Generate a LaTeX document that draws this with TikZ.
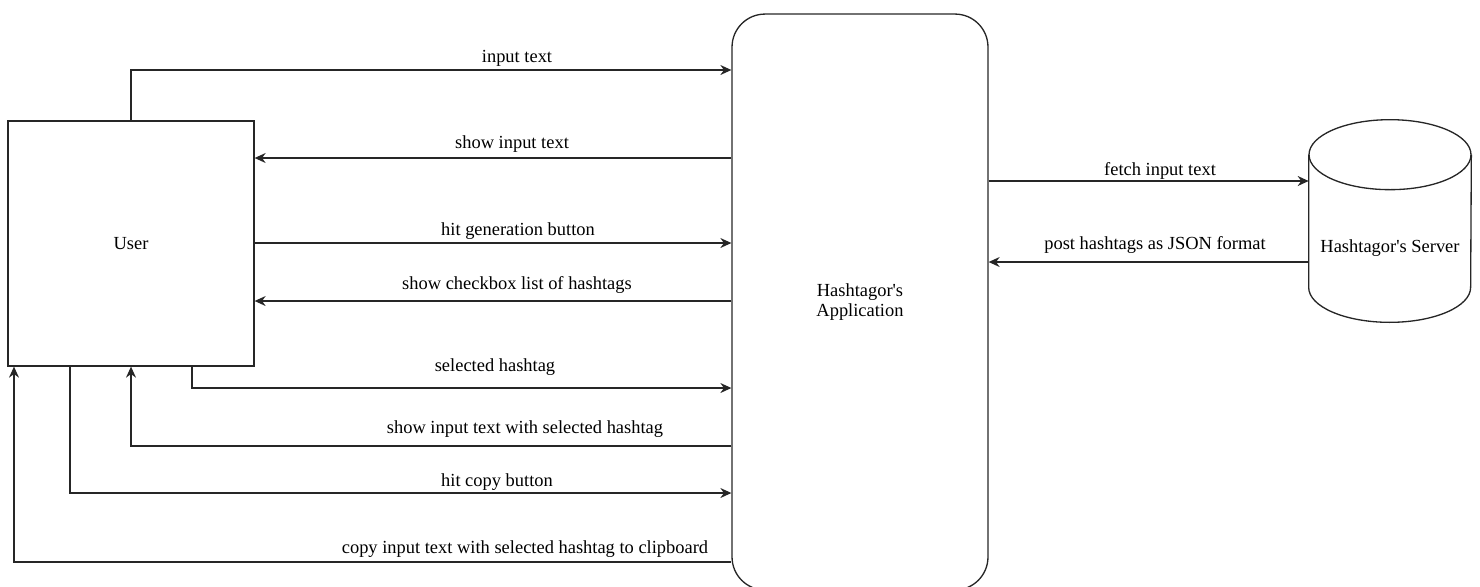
\documentclass[tikz,border=0pt]{standalone}
\usepackage{fontspec}
\setmainfont{Liberation Serif}
\usepackage{tikz}
\usetikzlibrary{arrows.meta}
\usetikzlibrary{positioning,calc}
\definecolor{inkgray}{RGB}{38,38,38}

\begin{document}
\begin{tikzpicture}[x=0.02cm,y=-0.02cm,
    font=\fontsize{10.5pt}{11pt}\selectfont,
    wire/.style={line width=0.75pt,draw=inkgray},
    flow/.style={wire,-{Stealth[length=2.2mm,width=2mm]}},
    userbox/.style={wire,rectangle,minimum width=4.92cm,minimum height=4.9cm},
    appbox/.style={wire,rectangle,rounded corners=0.66cm,align=center,
      minimum width=5.12cm,minimum height=11.52cm},
    srvbox/.style={rectangle,minimum width=3.24cm,minimum height=4.04cm},
    lbl/.style={text=black,inner sep=1pt}]
    \useasboundingbox (0,0) rectangle (1480,586);
    % the three parties
    \node[userbox] (user) at (131,243.5) {User};
    \node[appbox] (app) at (860,302) {Hashtagor\textquotesingle s\\Application};
    \node[srvbox] (srv) at (1390,221) {};
    \draw[wire] ([yshift=-0.7cm]srv.north) ellipse [x radius=1.62cm,y radius=0.7cm];
    \draw[wire] ([yshift=-0.7cm]srv.north west) -- ([yshift=0.7cm]srv.south west)
      arc[start angle=180,end angle=360,x radius=1.62cm,y radius=0.7cm]
      -- ([yshift=-0.7cm]srv.north east);
    \node (srvtext) at (1390,248) {Hashtagor\textquotesingle s Server};
    % user <-> application
    \draw[flow] (user.north) |- (app.west |- 0,70);
    \node[lbl] (l1) at (517,58) {input text};
    \draw[flow] (app.west |- 0,158) -- (user.east |- 0,158);
    \node[lbl] (l2) at (512,144) {show input text};
    \draw[flow] (user.east |- 0,243) -- (app.west |- 0,243);
    \node[lbl] (l3) at (518,231) {hit generation button};
    \draw[flow] (app.west |- 0,301) -- (user.east |- 0,301);
    \node[lbl] (l4) at (517,285) {show checkbox list of hashtags};
    \draw[flow] (user.south -| 192,0) |- (app.west |- 0,388);
    \node[lbl] (l5) at (495,367) {selected hashtag};
    \draw[flow] (app.west |- 0,446) -| (user.south);
    \node[lbl] (l6) at (525,429) {show input text with selected hashtag};
    \draw[flow] (user.south -| 70,0) |- (app.west |- 0,493);
    \node[lbl] (l7) at (497,482) {hit copy button};
    \draw[flow] (app.west |- 0,562) -| (user.south -| 14,0);
    \node[lbl] (l8) at (525,549) {copy input text with selected hashtag to clipboard};
    % application <-> server
    \draw[flow] (app.east |- 0,181) -- (srv.west |- 0,181);
    \node[lbl] (l9) at (1160,171) {fetch input text};
    \draw[flow] (srv.west |- 0,262) -- (app.east |- 0,262);
    \node[lbl] (l10) at (1155,245) {post hashtags as JSON format};
\end{tikzpicture}
\end{document}
